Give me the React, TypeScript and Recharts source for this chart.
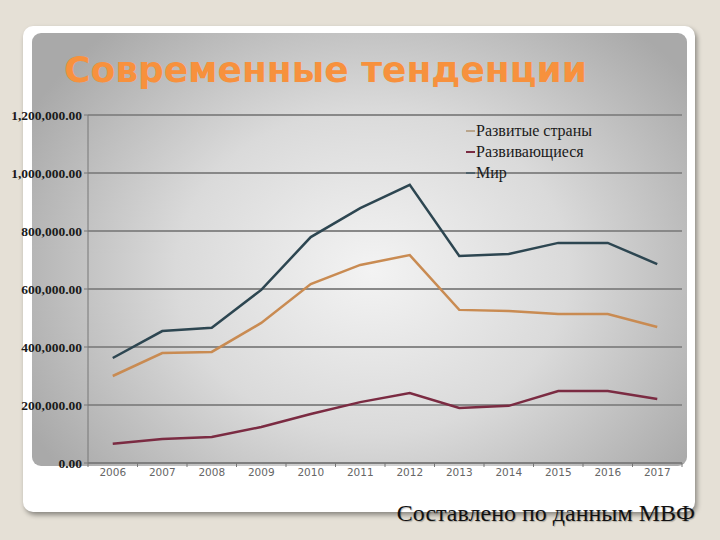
import React from "react";
import { LineChart, Line, XAxis, YAxis, CartesianGrid, Legend } from "recharts";

// ─── Data (thousands of USD) ─────────────────────────────────────────────────

const years = ["2006", "2007", "2008", "2009", "2010", "2011", "2012", "2013", "2014", "2015", "2016", "2017"];
const developed = [300000, 379000, 383000, 483000, 617000, 683000, 717000, 528000, 524000, 514000, 514000, 469000];
const developing = [66000, 83000, 90000, 124000, 169000, 210000, 241000, 190000, 197000, 248000, 248000, 221000];
const world = [362000, 455000, 466000, 597000, 779000, 879000, 959000, 714000, 721000, 759000, 759000, 686000];
const yTicks = [0, 200000, 400000, 600000, 800000, 1000000, 1200000];

const seriesDefs = [
  { key: "developed", name: "Развитые страны", color: "#c98b52", legend: "#b9a58c" },
  { key: "developing", name: "Развивающиеся", color: "#7b2b42", legend: "#7b2b42" },
  { key: "world", name: "Мир", color: "#2d4651", legend: "#4f616a" },
];

const data = years.map((y, i) => ({
  year: y,
  developed: developed[i],
  developing: developing[i],
  world: world[i],
}));

// ─── Helpers ─────────────────────────────────────────────────────────────────

function fmtTick(v: number): string {
  return v.toLocaleString("en-US", { minimumFractionDigits: 2, maximumFractionDigits: 2 });
}

// plot is 594px wide, points sit in the middle of each year's band
const HALF_BAND = 594 / years.length / 2;

function YearTick(props: any) {
  const { x, y, payload, index } = props;
  const last = index === years.length - 1;
  return (
    <g>
      <line x1={x - HALF_BAND} x2={x - HALF_BAND} y1={y - 4} y2={y} stroke="#777" />
      {last && <line x1={x + HALF_BAND} x2={x + HALF_BAND} y1={y - 4} y2={y} stroke="#777" />}
      <text x={x} y={y + 9} textAnchor="middle" fill="#666" fontSize={10.5} fontFamily="DejaVu Sans">
        {payload.value}
      </text>
    </g>
  );
}

function SlideLegend() {
  return (
    <div style={{ fontFamily: "Liberation Serif", fontSize: 16, color: "#1a1a1a", lineHeight: "21px" }}>
      {seriesDefs.map((s) => (
        <div key={s.key} style={{ display: "flex", alignItems: "center" }}>
          <span style={{ display: "inline-block", width: 9, height: 2, background: s.legend, marginRight: 1 }} />
          {s.name}
        </div>
      ))}
    </div>
  );
}

// ─── Main ────────────────────────────────────────────────────────────────────

export default function App() {
  return (
    <div
      style={{
        position: "absolute",
        left: 0,
        top: 0,
        width: 720,
        height: 540,
        background: "#e5e0d6",
        overflow: "hidden",
      }}
    >
      {/* white card */}
      <div
        style={{
          position: "absolute",
          left: 23,
          top: 26,
          width: 672,
          height: 486,
          background: "#fff",
          borderRadius: 10,
          boxShadow: "2px 3px 5px rgba(0,0,0,0.4)",
        }}
      />
      {/* gray gradient panel */}
      <div
        style={{
          position: "absolute",
          left: 32,
          top: 33,
          width: 655,
          height: 433,
          borderRadius: 9,
          background:
            "radial-gradient(ellipse 60% 75% at 52% 55%, #f3f3f3 0%, #dadada 50%, #a9a9a9 100%)",
        }}
      />
      <div
        style={{
          position: "absolute",
          left: 64,
          top: 49,
          fontFamily: "DejaVu Sans",
          fontWeight: "bold",
          fontSize: 36,
          lineHeight: "normal",
          color: "#f7913d",
          whiteSpace: "nowrap",
        }}
      >
        Современные тенденции
      </div>

      <div style={{ position: "absolute", left: 0, top: 100 }}>
        <LineChart width={700} height={390} data={data} margin={{ top: 15, right: 18, left: 0, bottom: 0 }}>
          <CartesianGrid vertical={false} stroke="#888" strokeWidth={2} />
          <XAxis
            dataKey="year"
            height={27}
            stroke="#777"
            tickLine={false}
            tickSize={4}
            tickMargin={0}
            interval={0}
            padding={{ left: HALF_BAND, right: HALF_BAND }}
            tick={<YearTick />}
          />
          <YAxis
            width={88}
            domain={[0, 1200000]}
            ticks={yTicks}
            tickFormatter={fmtTick}
            stroke="#777"
            tickSize={4}
            tickMargin={2}
            tick={{ fill: "#1a1a1a", fontSize: 13.5, fontFamily: "Liberation Serif", fontWeight: "bold" }}
          />
          <Legend
            content={<SlideLegend />}
            wrapperStyle={{ position: "absolute", left: 466, top: 20, width: 200, height: 0, overflow: "visible" }}
          />
          {seriesDefs.map((s) => (
            <Line
              key={s.key}
              type="linear"
              dataKey={s.key}
              name={s.name}
              stroke={s.color}
              strokeWidth={2.5}
              dot={false}
              isAnimationActive={false}
            />
          ))}
        </LineChart>
      </div>

      <div
        style={{
          position: "absolute",
          right: 25,
          top: 500,
          fontFamily: "Liberation Serif",
          fontSize: 24,
          lineHeight: "normal",
          color: "#111",
          whiteSpace: "nowrap",
          textShadow: "1px 1px 1px rgba(0,0,0,0.25)",
        }}
      >
        Составлено по данным МВФ
      </div>
    </div>
  );
}
